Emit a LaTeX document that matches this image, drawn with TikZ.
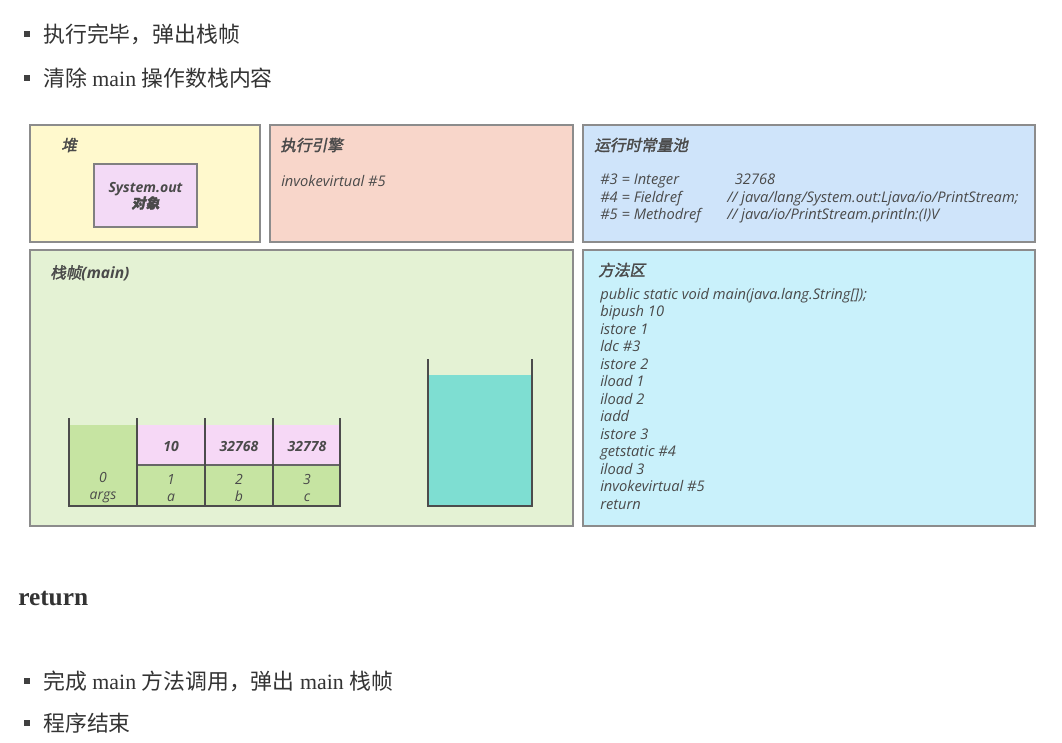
\documentclass[tikz,border=0pt]{standalone}
\usepackage{fontspec}
\setmainfont{Liberation Serif}
\newfontfamily\cjk{Noto Sans CJK SC}
\newfontfamily\cjkbf{Noto Sans CJK SC}[FakeSlant=0.2,FakeBold=2]
\newfontfamily\dfont{Open Sans}
\usetikzlibrary{positioning}
\definecolor{heapc}{HTML}{FFF9CD}
\definecolor{engc}{HTML}{F8D6CA}
\definecolor{poolc}{HTML}{CFE4FA}
\definecolor{framec}{HTML}{E4F2D4}
\definecolor{methc}{HTML}{C9F1FB}
\definecolor{objc}{HTML}{F3DAF6}
\definecolor{slotg}{HTML}{C6E4A2}
\definecolor{slotp}{HTML}{F6D8F6}
\definecolor{stackc}{HTML}{7EDED2}
\definecolor{txt}{HTML}{4A4A4A}
\tikzset{
  area/.style = {draw=black!45, line width=1.1pt},
  area_h/.style = {area, fill=heapc},% heap
  area_e/.style = {area, fill=engc},% execution engine
  area_p/.style = {area, fill=poolc},% constant pool
  area_f/.style = {area, fill=framec},% stack frame
  area_m/.style = {area, fill=methc},% method area
  wall/.style = {draw=black!70, line width=1.1pt},
  dot/.style = {fill=black!75, inner sep=0pt, minimum size=4pt},
  note/.style = {anchor=west, inner sep=0pt, text=black!80,
    font=\fontsize{16.4}{19}\selectfont},
  title/.style = {anchor=west, inner sep=0pt, text=txt,
    font=\fontsize{11.7}{13}\selectfont},
  code/.style = {anchor=north west, inner sep=0pt, text=txt, align=left,
    font=\dfont\itshape\fontsize{11}{13.125}\selectfont},
  val/.style = {inner sep=0pt, text=txt, align=center,
    font=\dfont\itshape\bfseries\fontsize{10.5}{13}\selectfont},
  idx/.style = {inner sep=0pt, text=txt, align=center,
    font=\dfont\itshape\fontsize{10.5}{12.75}\selectfont}
}
\begin{document}
\begin{tikzpicture}[x=0.75pt,y=-0.75pt]
\useasboundingbox (0,0) rectangle (1062,742);
\fill[white] (0,0) rectangle (1062,742);
% notes above
\node[dot] (d1) at (27,34) {};
\node[note] (n1) at (43,34) {\cjk 执行完毕，弹出栈帧};
\node[dot] (d2) at (27,78) {};
\node[note] (n2) at (43,78) {{\cjk 清除} main {\cjk 操作数栈内容}};
% areas
\draw[area_h] (30,125) rectangle (260,242);
\draw[area_e] (270,125) rectangle (573,242);
\draw[area_p] (583,125) rectangle (1035,242);
\draw[area_f] (30,250) rectangle (573,526);
\draw[area_m] (583,250) rectangle (1035,526);
% heap
\node[title] (heap) at (61,145) {\cjkbf 堆};
\draw[draw=black!50, line width=1pt, fill=objc] (94,164) rectangle (197,227);
\node[val] (sysout) at (145.5,196) {System.out\\[-1pt]{\cjkbf\fontsize{10.5}{13}\selectfont 对象}};
% execution engine
\node[title] (eng) at (280,145) {\cjkbf 执行引擎};
\node[code, anchor=west] (engop) at (281,181) {invokevirtual \#5};
% runtime constant pool
\node[title] (pool) at (594,145) {\cjkbf 运行时常量池};
\node[code] (poolk) at (600,174) {\#3 = Integer\\\#4 = Fieldref\\\#5 = Methodref};
\node[code] (poolv) at (727,174) {\ \ 32768\\// java/lang/System.out:Ljava/io/PrintStream;\\// java/io/PrintStream.println:(I)V};
% stack frame
\node[title] (frame) at (50,273) {{\cjkbf 栈帧}{\dfont\itshape\bfseries (main)}};
% local variable table
\fill[slotg] (69,425) rectangle (137,506);
\fill[slotp] (137,425) rectangle (340,465);
\fill[slotg] (137,465) rectangle (340,506);
\draw[black!60, line width=0.8pt] (137,465) -- (340,465);
\draw[wall] (69,418) -- (69,506) -- (340,506) -- (340,418);
\draw[wall] (137,418) -- (137,506);
\draw[wall] (205,418) -- (205,506);
\draw[wall] (273,418) -- (273,506);
\node[val] (v1) at (171,446) {10};
\node[val] (v2) at (239,446) {32768};
\node[val] (v3) at (307,446) {32778};
\node[idx] (s0) at (103,488) {0\\args};
\node[idx] (s1) at (171,488) {1\\a};
\node[idx] (s2) at (239,488) {2\\b};
\node[idx] (s3) at (307,488) {3\\c};
% operand stack
\fill[stackc] (428,375) rectangle (532,506);
\draw[wall] (428,359) -- (428,506) -- (532,506) -- (532,359);
% method area
\node[title] (meth) at (598,270) {\cjkbf 方法区};
\node[code] (methcode) at (600,288) {public static void main(java.lang.String[]);\\bipush 10\\istore 1\\ldc \#3\\istore 2\\iload 1\\iload 2\\iadd\\istore 3\\getstatic \#4\\iload 3\\invokevirtual \#5\\return};
% notes below
\node[note, font=\bfseries\fontsize{19}{22}\selectfont] (ret) at (18,599) {return};
\node[dot] (d3) at (27,681) {};
\node[note] (n3) at (43,681) {{\cjk 完成} main {\cjk 方法调用，弹出} main {\cjk 栈帧}};
\node[dot] (d4) at (27,723) {};
\node[note] (n4) at (43,723) {\cjk 程序结束};
\end{tikzpicture}
\end{document}
